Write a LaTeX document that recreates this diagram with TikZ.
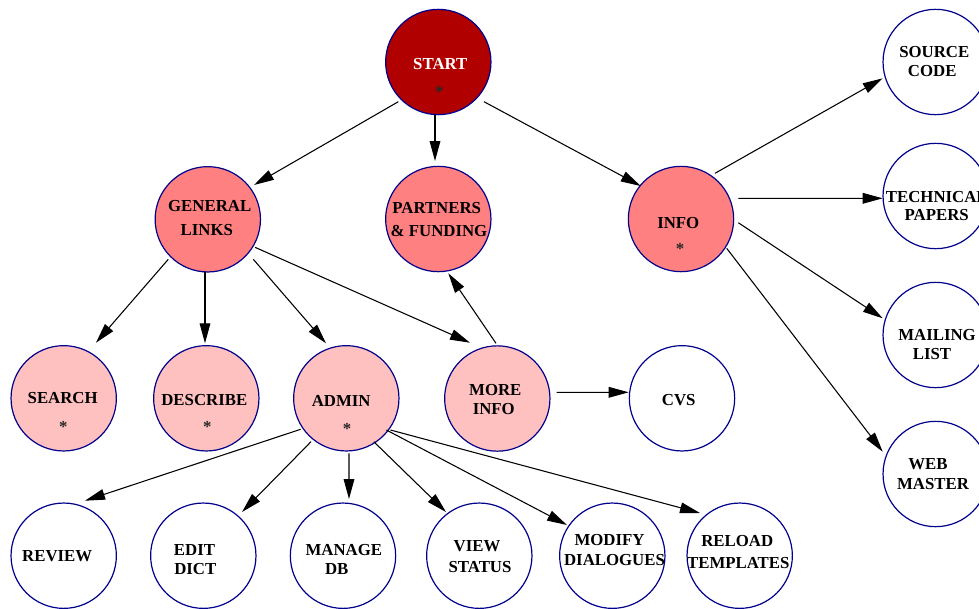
\documentclass[tikz,border=0pt]{standalone}
\usepackage{fontspec}
\setmainfont{Liberation Serif}
\usetikzlibrary{arrows.meta,calc}
\definecolor{startred}{RGB}{176,0,0}
\definecolor{midred}{RGB}{255,128,128}
\definecolor{lightred}{RGB}{255,192,192}
\definecolor{rim}{RGB}{0,0,140}
\definecolor{stargray}{RGB}{40,40,40}
\begin{document}
\begin{tikzpicture}[x=0.75pt,y=-0.75pt,
  circ/.style={circle,draw=rim,line width=0.9pt,minimum size=79pt,inner sep=0pt,outer sep=0pt},
  lbl/.style={anchor=base,inner sep=0pt,font=\fontsize{12.6}{15}\selectfont\bfseries},
  star/.style={lbl,text=stargray},
  edge/.style={draw=black,line width=0.8pt,-{Triangle[length=15pt,width=8pt]}}]
\useasboundingbox (0,0) rectangle (979,608);
\clip (0,0) rectangle (979,608);
\fill[white] (0,0) rectangle (979,608);

% circles
\node[circ,fill=startred] (start) at (438.3,62) {};
\node[circ,fill=midred] (gen) at (207.8,219.3) {};
\node[circ,fill=midred] (part) at (438.3,219) {};
\node[circ,fill=midred] (info) at (681,219) {};
\node[circ,fill=white] (src) at (935.7,62) {};
\node[circ,fill=white] (tech) at (935.7,196) {};
\node[circ,fill=white] (mail) at (935.7,335) {};
\node[circ,fill=white] (web) at (935.7,474) {};
\node[circ,fill=lightred] (search) at (63.7,398.3) {};
\node[circ,fill=lightred] (desc) at (206.3,398.3) {};
\node[circ,fill=lightred] (admin) at (346.3,398.3) {};
\node[circ,fill=lightred] (more) at (497.3,398.5) {};
\node[circ,fill=white] (cvs) at (682,398.3) {};
\node[circ,fill=white] (review) at (63.7,555.7) {};
\node[circ,fill=white] (edit) at (203.3,555.7) {};
\node[circ,fill=white] (manage) at (343,555.7) {};
\node[circ,fill=white] (view) at (479.3,555.7) {};
\node[circ,fill=white] (modify) at (612.3,555.7) {};
\node[circ,fill=white] (reload) at (739.7,555.7) {};

% labels
\node[lbl,text=white] (startT) at (440.3,69) {START};
\node[star] (startS) at (439.3,97.7) {*};
\node[lbl] (genT1) at (209.7,211.5) {GENERAL};
\node[lbl] (genT2) at (206.8,235.5) {LINKS};
\node[lbl] (partT1) at (436.7,213.5) {PARTNERS};
\node[lbl] (partT2) at (439,236) {\& FUNDING};
\node[lbl] (infoT) at (678.3,228) {INFO};
\node[star] (infoS) at (680,254.7) {*};
\node[lbl] (srcT1) at (934.3,57.5) {SOURCE};
\node[lbl] (srcT2) at (932.2,76) {CODE};
\node[lbl] (techT1) at (936.8,202.5) {TECHNICAL};
\node[lbl] (techT2) at (936.7,220.5) {PAPERS};
\node[lbl] (mailT1) at (937,340.5) {MAILING};
\node[lbl] (mailT2) at (932,359.5) {LIST};
\node[lbl] (webT1) at (928,469.5) {WEB};
\node[lbl] (webT2) at (933,489.5) {MASTER};
\node[lbl] (searchT) at (62.7,403) {SEARCH};
\node[star] (searchS) at (63.3,432) {*};
\node[lbl] (descT) at (204.3,405) {DESCRIBE};
\node[star] (descS) at (207.3,432) {*};
\node[lbl] (adminT) at (341.2,406.5) {ADMIN};
\node[star] (adminS) at (347,434) {*};
\node[lbl] (moreT1) at (495.3,395) {MORE};
\node[lbl] (moreT2) at (493.8,414) {INFO};
\node[lbl] (cvsT) at (678.7,405.5) {CVS};
\node[lbl] (reviewT) at (57.2,561.5) {REVIEW};
\node[lbl] (editT1) at (194.5,555) {EDIT};
\node[lbl] (editT2) at (195.3,574.5) {DICT};
\node[lbl] (manageT1) at (343.8,555) {MANAGE};
\node[lbl] (manageT2) at (336.7,574.5) {DB};
\node[lbl] (viewT1) at (477,551.5) {VIEW};
\node[lbl] (viewT2) at (480,572.5) {STATUS};
\node[lbl] (modifyT1) at (609.5,545) {MODIFY};
\node[lbl] (modifyT2) at (614.5,565.5) {DIALOGUES};
\node[lbl] (reloadT1) at (737.2,546) {RELOAD};
\node[lbl] (reloadT2) at (738.3,568) {TEMPLATES};

% edges
\draw[edge] ($(start)+(-40,39.7)$) -- ($(gen)+(46.2,-34.3)$);
\draw[edge] ($(start)+(-3.3,53)$) -- ($(part)+(-3.3,-58)$);
\draw[edge] ($(start)+(45.7,39.7)$) -- ($(info)+(-40.3,-33)$);
\draw[edge] ($(gen)+(-39.5,40)$) -- ($(search)+(32.3,-55.6)$);
\draw[edge] ($(gen)+(-2.8,52.4)$) -- ($(desc)+(-1.3,-55)$);
\draw[edge] ($(gen)+(45.5,40)$) -- ($(admin)+(-20.3,-55)$);
\draw[edge] ($(gen)+(47.2,28)$) -- ($(more)+(-27.3,-55.8)$);
\draw[edge] ($(more)+(-1.3,-55.2)$) -- ($(part)+(10,54.3)$);
\draw[edge] ($(more)+(59.4,-6.2)$) -- ($(cvs)+(-53.3,-6)$);
\draw[edge] ($(info)+(34,-45.7)$) -- ($(src)+(-53,16.3)$);
\draw[edge] ($(info)+(57.3,-20.7)$) -- ($(tech)+(-53,2.3)$);
\draw[edge] ($(info)+(57.3,3.7)$) -- ($(mail)+(-53,-16.7)$);
\draw[edge] ($(info)+(45.7,29.3)$) -- ($(web)+(-53,-22.3)$);
\draw[edge] ($(admin)+(-45.7,31)$) -- ($(review)+(21.3,-55)$);
\draw[edge] ($(admin)+(-35.3,43.4)$) -- ($(edit)+(38.7,-43.7)$);
\draw[edge] ($(admin)+(2.7,55)$) -- ($(manage)+(6,-56.7)$);
\draw[edge] ($(admin)+(27.5,43.4)$) -- ($(view)+(-33.3,-43.7)$);
\draw[edge] ($(admin)+(40.1,31.7)$) -- ($(modify)+(-45.3,-30.7)$);
\draw[edge] ($(admin)+(44.2,31.7)$) -- ($(reload)+(-39.7,-42.7)$);
\end{tikzpicture}
\end{document}
